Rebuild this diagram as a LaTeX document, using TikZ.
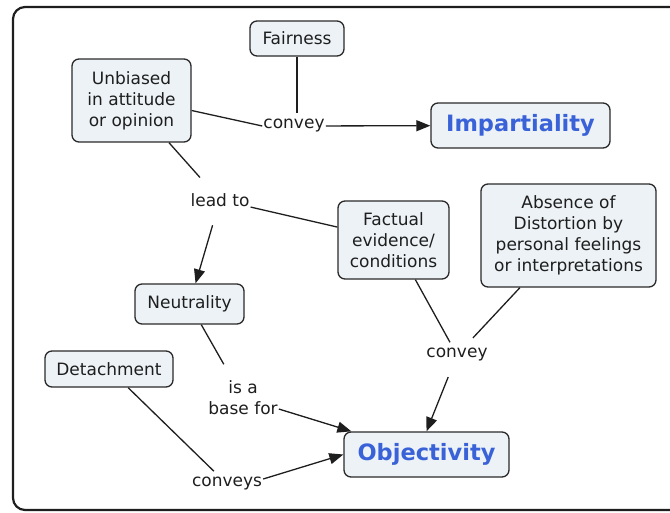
\documentclass[tikz,border=0pt]{standalone}
\usepackage{fontspec}
\setmainfont{DejaVu Sans}
\usetikzlibrary{arrows.meta,calc}
\definecolor{boxfill}{HTML}{EDF2F6}
\definecolor{boxline}{HTML}{2A2A2A}
\definecolor{keyblue}{HTML}{3A62D8}
\definecolor{ink}{HTML}{1E1E1E}
\tikzset{
  concept/.style={draw=boxline, fill=boxfill, line width=1.3pt,
    rounded corners=7pt, align=center, inner sep=0pt,
    font=\fontsize{17}{21}\selectfont, text=ink},
  keyconcept/.style={concept, font=\fontsize{22.5}{26}\selectfont\bfseries,
    text=keyblue},
  linkphrase/.style={align=center, inner xsep=1pt, inner ysep=6pt,
    font=\fontsize{17}{21}\selectfont, text=ink},
  link/.style={draw=ink, line width=1.3pt},
  arrowlink/.style={link, -{Triangle[length=14pt,width=11pt]}}
}
\begin{document}
\begin{tikzpicture}[x=1pt,y=-1pt]
  \useasboundingbox (0,0) rectangle (670,512);
  \clip (0,0) rectangle (670,512);
  % outer frame, open to the right
  \draw[line width=2.2pt, draw=ink, rounded corners=12pt] (13,7) rectangle (700,510);

  % concepts
  \node[concept, minimum width=94pt, minimum height=35pt] (fair) at (297,38.5) {Fairness};
  \node[concept, minimum width=119pt, minimum height=83pt] (unb) at (131.5,100.5) {Unbiased\\in attitude\\or opinion};
  \node[keyconcept, minimum width=179pt, minimum height=45pt] (imp) at (520.5,125.5) {Impartiality};
  \node[concept, minimum width=111pt, minimum height=78pt] (fact) at (393.5,240) {Factual\\evidence/\\conditions};
  \node[concept, minimum width=175pt, minimum height=103pt] (abs) at (568.5,235.5) {Absence of\\Distortion by\\personal feelings\\or interpretations};
  \node[concept, minimum width=109pt, minimum height=40pt] (neut) at (189.5,304) {Neutrality};
  \node[concept, minimum width=128pt, minimum height=36pt] (det) at (109,369) {Detachment};
  \node[keyconcept, minimum width=165pt, minimum height=45pt] (obj) at (426.5,454.5) {Objectivity};

  % linking phrases
  \node[linkphrase] (cv1) at (294,126) {convey};
  \node[linkphrase] (lead) at (220,200) {lead to};
  \node[linkphrase] (cv2) at (457,355) {convey};
  \node[linkphrase] (isa) at (243,398) {is a\\base for};
  \node[linkphrase] (conv) at (227,484) {conveys};

  % connectors
  \draw[link] ([yshift=-10pt]unb.east) -- (cv1.west);
  \draw[link] (fair.south) -- (fair.south |- cv1.north);
  \draw[arrowlink] (cv1) -- (imp);
  \draw[link, shorten >=13pt] (unb) -- (lead);
  \draw[link] (lead) -- (fact);
  \draw[arrowlink, shorten <=13pt] (lead) -- (neut);
  \draw[link, shorten >=12pt] (neut) -- (isa);
  \draw[arrowlink] (isa) -- (obj);
  \draw[link] (det) -- (conv);
  \draw[arrowlink] ([yshift=5pt]conv.east) -- (obj.west);
  \draw[link] (fact) -- (cv2);
  \draw[link, shorten >=6pt] (abs) -- (cv2);
  \draw[arrowlink, shorten <=10pt] (cv2) -- (obj.north);
\end{tikzpicture}
\end{document}
